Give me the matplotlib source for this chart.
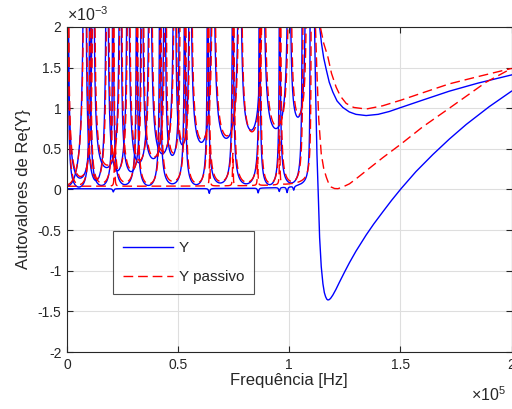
import numpy as np
import matplotlib
matplotlib.use('Agg')
import matplotlib.pyplot as plt

plt.rcParams['font.family'] = ['Liberation Sans', 'DejaVu Sans']
plt.rcParams['mathtext.fontset'] = 'custom'
plt.rcParams['mathtext.rm'] = 'Liberation Sans'
plt.rcParams['mathtext.it'] = 'Liberation Sans'

# ---------------- data (frequency in 1e5 Hz, eigenvalues in 1e-3) ----------------
# low tier of resonance arcs (Y)
poles_A = [0.004, 0.103, 0.207, 0.314, 0.418, 0.530, 0.633, 0.746, 0.867, 0.957, 1.060]
mins_A = [0.03, 0.05, 0.06, 0.05, 0.07, 0.06, 0.08, 0.07, 0.06, 0.08]
# second tier of resonance arcs (Y)
poles_B = [0.081, 0.180, 0.274, 0.373, 0.485, 0.553, 0.656, 0.777, 0.880, 1.000, 1.078]
mins_B = [0.11, 0.23, 0.33, 0.44, 0.55, 0.58, 0.63, 0.73, 0.75, 0.89]
start_B = 0.04
# third tier (low-frequency region only)
poles_C = [0.001, 0.117, 0.240, 0.337, 0.440, 0.508]
mins_C = [0.14, 0.27, 0.22, 0.38, 0.42]
# passive counterparts
poles_A_p = [0.005, 0.105, 0.209, 0.316, 0.421, 0.533, 0.636, 0.749, 0.870, 0.960, 1.064]
mins_A_p = [0.06, 0.08, 0.09, 0.07, 0.10, 0.08, 0.10, 0.09, 0.08, 0.10]
poles_B_p = [0.083, 0.183, 0.277, 0.376, 0.488, 0.556, 0.659, 0.780, 0.884, 1.004, 1.083]
mins_B_p = [0.13, 0.25, 0.36, 0.47, 0.57, 0.61, 0.66, 0.71, 0.78, 0.92]
start_B_p = 0.06
poles_C_p = [0.002, 0.120, 0.243, 0.340, 0.444, 0.512]
mins_C_p = [0.16, 0.30, 0.24, 0.40, 0.45]
# baseline (lowest eigenvalue before the main resonance)
base_Y = 0.01
pole_base_Y = 1.095
dips_f = [0.208, 0.640, 0.860, 0.955, 0.990, 1.020]
dips_v = [-0.04, -0.06, -0.06, -0.05, -0.07, -0.05]
base_P = 0.04
pole_base_P = 1.100
spikes_f = [0.214, 0.642, 0.746, 0.858, 0.957]
spikes_v = [0.50, 0.48, 0.40, 0.35, 0.60]

# branches above the main resonance
f_Y_low = [1.110, 1.114, 1.118, 1.1246, 1.131, 1.1366, 1.144, 1.1515, 1.158, 1.1636, 1.169, 1.174,
           1.180, 1.186, 1.196, 1.210, 1.226, 1.250, 1.271, 1.300, 1.346, 1.380, 1.421, 1.460,
           1.503, 1.570, 1.646, 1.720, 1.796, 1.900, 2.000]
v_Y_low = [3.0, 2.0, 1.3, 0.44, -0.10, -0.59, -0.95, -1.16, -1.27, -1.32, -1.35, -1.36,
           -1.355, -1.34, -1.30, -1.23, -1.14, -1.01, -0.90, -0.76, -0.56, -0.425, -0.275, -0.135,
           0.01, 0.22, 0.43, 0.62, 0.80, 1.02, 1.21]
f_Y_up = [1.128, 1.137, 1.145, 1.155, 1.167, 1.180, 1.196, 1.215, 1.241, 1.270, 1.300, 1.346,
          1.400, 1.450, 1.503, 1.600, 1.720, 1.850, 2.000]
v_Y_up = [3.0, 2.0, 1.80, 1.62, 1.47, 1.32, 1.20, 1.09, 1.01, 0.955, 0.925, 0.91,
          0.925, 0.96, 1.01, 1.10, 1.21, 1.31, 1.41]
f_P_up = [1.130, 1.140, 1.155, 1.174, 1.190, 1.211, 1.230, 1.256, 1.290, 1.346, 1.420, 1.503,
          1.600, 1.720, 1.850, 2.000]
v_P_up = [3.0, 2.0, 1.80, 1.63, 1.43, 1.26, 1.15, 1.06, 1.01, 0.99, 1.03, 1.10,
          1.19, 1.30, 1.39, 1.49]
f_P_low = [1.112, 1.118, 1.125, 1.133, 1.144, 1.155, 1.167, 1.178, 1.189, 1.204, 1.219, 1.240,
           1.271, 1.300, 1.346, 1.420, 1.503, 1.600, 1.720, 1.885, 2.000]
v_P_low = [3.0, 2.0, 1.40, 0.85, 0.44, 0.26, 0.15, 0.07, 0.03, 0.012, 0.01, 0.03,
           0.07, 0.13, 0.23, 0.39, 0.56, 0.77, 1.00, 1.32, 1.49]

x_ticks = [0, 0.5, 1, 1.5, 2]
x_ticklabels = ['0', '0.5', '1', '1.5', '2']
y_ticks = [-2, -1.5, -1, -0.5, 0, 0.5, 1, 1.5, 2]
y_ticklabels = ['-2', '-1.5', '-1', '-0.5', '0', '0.5', '1', '1.5', '2']


def arcs(f, poles, mins, k, start_min=None):
    v = np.full_like(f, np.nan)
    if start_min is not None:
        a = poles[0]
        m = f < a
        u = f[m] / a
        v[m] = start_min + k * u ** 2 / (1 - u ** 2)
    for i in range(len(poles) - 1):
        a, b = poles[i], poles[i + 1]
        m = (f > a) & (f < b)
        c, h = (a + b) / 2, (b - a) / 2
        u = (f[m] - c) / h
        v[m] = mins[i] + k * u ** 2 / (1 - u ** 2)
    return np.clip(v, -5, 5)


def bumps(f, centers, heights, w):
    out = np.zeros_like(f)
    for c, hgt in zip(centers, heights):
        out += hgt * w ** 2 / ((f - c) ** 2 + w ** 2)
    return out


f = np.linspace(0, 1.2, 24001)

fig = plt.figure(figsize=(5.12, 4.09), dpi=100)
ax = fig.add_axes([67 / 512, 57 / 409, 444.5 / 512, 325 / 409])

blue = (0, 0, 1)
red = (1, 0, 0)
lwb = 1.0
dash = (7, 3.5)
kA, kB, kC = 0.2, 0.55, 0.4

# Y curves
yb = arcs(f, [pole_base_Y], [], 0.005, start_min=base_Y) + bumps(f, dips_f, dips_v, 0.003)
ax.plot(f, yb, color=blue, lw=lwb, label='Y')
ax.plot(f, arcs(f, poles_A, mins_A, kA), color=blue, lw=lwb)
ax.plot(f, arcs(f, poles_B, mins_B, kB, start_min=start_B), color=blue, lw=lwb)
ax.plot(f, arcs(f, poles_C, mins_C, kC), color=blue, lw=lwb)
ax.plot(f_Y_low, v_Y_low, color=blue, lw=lwb)
ax.plot(f_Y_up, v_Y_up, color=blue, lw=lwb)

# passive curves
pb = arcs(f, [pole_base_P], [], 0.006, start_min=base_P) + bumps(f, spikes_f, spikes_v, 0.0015)
ax.plot(f, pb, color=red, lw=lwb, dashes=dash, label='Y passivo')
ax.plot(f, arcs(f, poles_A_p, mins_A_p, kA), color=red, lw=lwb, dashes=dash)
ax.plot(f, arcs(f, poles_B_p, mins_B_p, kB, start_min=start_B_p), color=red, lw=lwb, dashes=dash)
ax.plot(f, arcs(f, poles_C_p, mins_C_p, kC), color=red, lw=lwb, dashes=dash)
ax.plot(f_P_low, v_P_low, color=red, lw=lwb, dashes=dash)
ax.plot(f_P_up, v_P_up, color=red, lw=lwb, dashes=dash)

ax.set_xlim(0, 2)
ax.set_ylim(-2, 2)
ax.set_xticks(x_ticks)
ax.set_xticklabels(x_ticklabels)
ax.set_yticks(y_ticks)
ax.set_yticklabels(y_ticklabels)
ax.grid(True, color='#dedede', lw=0.8)
ax.set_axisbelow(True)
for s in ax.spines.values():
    s.set_color('#262626')
    s.set_linewidth(0.8)
ax.tick_params(direction='in', length=4, width=0.8, colors='#262626', labelsize=10,
               top=True, right=True, pad=4)
ax.set_xlabel('Frequência [Hz]', fontsize=12, color='#262626', labelpad=1)
ax.set_ylabel('Autovalores de Re{Y}', fontsize=12, color='#262626', labelpad=5)

leg = ax.legend(loc='upper left', bbox_to_anchor=((113 - 67) / 444.5, (352 - 231) / 325),
                fontsize=11, frameon=True, fancybox=False, handlelength=3.3,
                handletextpad=0.35, labelspacing=1.0, borderpad=0.65, borderaxespad=0)
leg.get_frame().set_edgecolor('#262626')
leg.get_frame().set_linewidth(0.8)
for t in leg.get_texts():
    t.set_color('#262626')

fig.text(67 / 512, 1 - 21 / 409, r'$\times10^{-3}$', fontsize=11.5, color='#262626',
         ha='left', va='baseline')
fig.text(471 / 512, 1 - 401 / 409, r'$\times10^{5}$', fontsize=11.5, color='#262626',
         ha='left', va='baseline')

fig.savefig('out.png', dpi=100)
